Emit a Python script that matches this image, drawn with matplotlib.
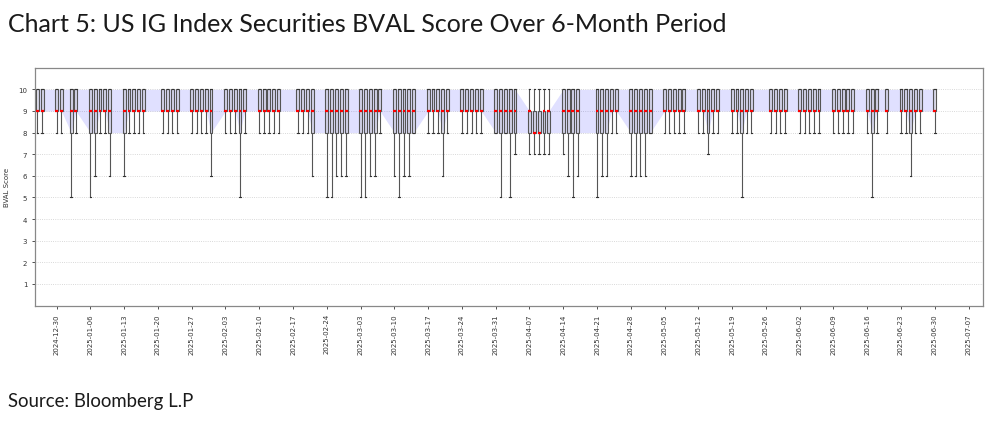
import matplotlib
matplotlib.use('Agg')
import numpy as np
import pandas as pd
import matplotlib.pyplot as plt
import matplotlib.dates as mdates

# trading days (bond market holidays dropped)
holidays = ['2025-01-01', '2025-01-20', '2025-02-17', '2025-04-18', '2025-05-26', '2025-06-19']
days = pd.bdate_range('2024-12-26', '2025-06-30')
days = days[~days.isin(pd.to_datetime(holidays))]

# daily BVAL score distribution, one value per trading day, one row per week
q1 = [9, 9,
      9, 9, 8, 9,
      8, 8, 9, 9, 8,
      8, 9, 9, 9, 9,
      9, 9, 9, 9,
      9, 9, 9, 9, 8,
      9, 9, 9, 8, 9,
      9, 9, 9, 9, 9,
      9, 9, 9, 8,
      8, 8, 8, 8, 8,
      8, 8, 8, 8, 9,
      8, 8, 8, 8, 8,
      9, 9, 9, 8, 9,
      9, 9, 9, 9, 9,
      8, 8, 8, 8, 8,
      8, 8, 8, 8, 8,
      8, 8, 8, 8,
      8, 8, 8, 9, 9,
      8, 8, 8, 8, 8,
      9, 9, 9, 9, 9,
      9, 9, 8, 9, 9,
      9, 9, 8, 9, 9,
      9, 9, 9, 9,
      9, 9, 9, 9, 9,
      9, 9, 9, 9, 9,
      9, 8, 9, 9,
      9, 9, 8, 9, 9,
      9]

medians = [9, 9,
           9, 9, 9, 9,
           9, 9, 9, 9, 9,
           9, 9, 9, 9, 9,
           9, 9, 9, 9,
           9, 9, 9, 9, 9,
           9, 9, 9, 9, 9,
           9, 9, 9, 9, 9,
           9, 9, 9, 9,
           9, 9, 9, 9, 9,
           9, 9, 9, 9, 9,
           9, 9, 9, 9, 9,
           9, 9, 9, 9, 9,
           9, 9, 9, 9, 9,
           9, 9, 9, 9, 9,
           9, 8, 8, 9, 9,
           9, 9, 9, 9,
           9, 9, 9, 9, 9,
           9, 9, 9, 9, 9,
           9, 9, 9, 9, 9,
           9, 9, 9, 9, 9,
           9, 9, 9, 9, 9,
           9, 9, 9, 9,
           9, 9, 9, 9, 9,
           9, 9, 9, 9, 9,
           9, 9, 9, 9,
           9, 9, 9, 9, 9,
           9]

q3 = [10, 10,
      10, 10, 10, 10,
      10, 10, 10, 10, 10,
      10, 10, 10, 10, 10,
      10, 10, 10, 10,
      10, 10, 10, 10, 10,
      10, 10, 10, 10, 10,
      10, 10, 10, 10, 10,
      10, 10, 10, 10,
      10, 10, 10, 10, 10,
      10, 10, 10, 10, 10,
      10, 10, 10, 10, 10,
      10, 10, 10, 10, 10,
      10, 10, 10, 10, 10,
      10, 10, 10, 10, 10,
      9, 9, 9, 9, 9,
      10, 10, 10, 10,
      10, 10, 10, 10, 10,
      10, 10, 10, 10, 10,
      10, 10, 10, 10, 10,
      10, 10, 10, 10, 10,
      10, 10, 10, 10, 10,
      10, 10, 10, 10,
      10, 10, 10, 10, 10,
      10, 10, 10, 10, 10,
      10, 10, 10, 10,
      10, 10, 10, 10, 10,
      10]

lows = [8, 8,
        8, 8, 5, 8,
        5, 6, 8, 8, 6,
        6, 8, 8, 8, 8,
        8, 8, 8, 8,
        8, 8, 8, 8, 6,
        8, 8, 8, 5, 8,
        8, 8, 8, 8, 8,
        8, 8, 8, 6,
        5, 5, 6, 6, 6,
        5, 5, 6, 6, 8,
        6, 5, 6, 6, 8,
        8, 8, 8, 6, 8,
        8, 8, 8, 8, 8,
        8, 5, 8, 5, 7,
        7, 7, 7, 7, 7,
        7, 6, 5, 6,
        5, 6, 6, 8, 8,
        6, 6, 6, 6, 8,
        8, 8, 8, 8, 8,
        8, 8, 7, 8, 8,
        8, 8, 5, 8, 8,
        8, 8, 8, 8,
        8, 8, 8, 8, 8,
        8, 8, 8, 8, 8,
        8, 5, 8, 8,
        8, 8, 6, 8, 8,
        8]

highs = [10] * len(lows)

title = 'Chart 5: US IG Index Securities BVAL Score Over 6-Month Period'
source = 'Source: Bloomberg L.P'

pos = mdates.date2num(days.to_pydatetime())
stats = [{'med': m, 'q1': a, 'q3': b, 'whislo': lo, 'whishi': hi}
         for m, a, b, lo, hi in zip(medians, q1, q3, lows, highs)]

fig = plt.figure(figsize=(9.97, 4.27), dpi=100)
ax = fig.add_axes([0.035, 0.282, 0.951, 0.557])

ax.fill_between(pos, q1, q3, color='blue', alpha=0.12, lw=0, zorder=1)   # IQR band
ax.bxp(stats, positions=pos, widths=0.6, showfliers=False, patch_artist=True, manage_ticks=False,
       boxprops=dict(facecolor=(0.72, 0.72, 0.76, 0.35), edgecolor='#555555', linewidth=0.8),
       medianprops=dict(color='red', linewidth=1.6),
       whiskerprops=dict(color='#555555', linewidth=0.8),
       capprops=dict(color='#333333', linewidth=0.8),
       zorder=3)

ax.set_ylim(0, 11)
ax.set_yticks(range(1, 11))
ax.set_xlim(mdates.date2num(pd.Timestamp('2024-12-25 12:00')), mdates.date2num(pd.Timestamp('2025-07-10')))
ax.xaxis.set_major_locator(mdates.WeekdayLocator(byweekday=mdates.MO))
ax.xaxis.set_major_formatter(mdates.DateFormatter('%Y-%m-%d'))
ax.tick_params(axis='x', labelrotation=90)
ax.tick_params(labelsize=5, length=2, width=0.6, colors='#333333')
ax.set_ylabel('BVAL Score', fontsize=5, color='#333333', labelpad=6)
ax.grid(axis='y', linestyle=':', color='#cccccc', linewidth=0.6)
ax.set_axisbelow(True)
for s in ax.spines.values():
    s.set_color('#888888')
    s.set_linewidth(0.9)

fig.text(0.008, 0.925, title, fontsize=18, family=['Lato', 'DejaVu Sans'],
         color='#1a1a1a', va='baseline')
fig.text(0.008, 0.048, source, fontsize=13.4, family=['Lato', 'DejaVu Sans'],
         color='#1a1a1a', va='baseline')

fig.savefig('out.png', dpi=100)
